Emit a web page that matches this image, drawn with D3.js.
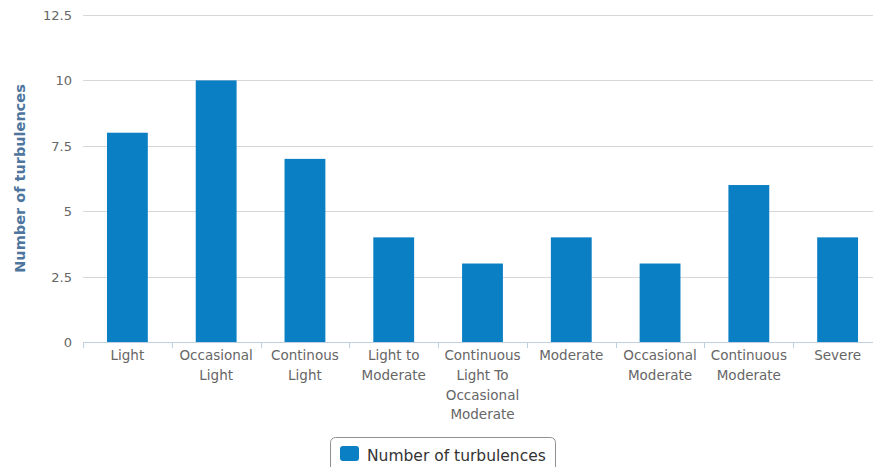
<!DOCTYPE html>
<html>
<head>
<meta charset="utf-8">
<script src="https://cdn.jsdelivr.net/npm/d3@7"></script>
<style>
  body { margin: 0; background: #fff; }
  svg { display: block; font-family: "DejaVu Sans", sans-serif; }
</style>
</head>
<body>
<svg id="chart" width="873" height="467"></svg>
<script>
// chart data
var categories = ["Light", "Occasional Light", "Continous Light", "Light to Moderate",
                  "Continuous Light To Occasional Moderate", "Moderate",
                  "Occasional Moderate", "Continuous Moderate", "Severe"];
var turbulences = [8, 10, 7, 4, 3, 4, 3, 6, 4];
var yTicks = [0, 2.5, 5, 7.5, 10, 12.5];
var seriesName = "Number of turbulences";
var yTitle = "Number of turbulences";

const svg = d3.select("#chart"),
      plotL = 83, plotR = 882, plotT = 15, plotB = 342;

const x = d3.scaleBand().domain(categories).range([plotL, plotR]).padding(0),
      y = d3.scaleLinear().domain([0, 12.5]).range([plotB, plotT]);

// gridlines
svg.append("g").selectAll("line")
  .data(yTicks.filter(d => d > 0))
  .enter().append("line")
    .attr("x1", plotL).attr("x2", plotR)
    .attr("y1", d => Math.round(y(d)) + 0.5).attr("y2", d => Math.round(y(d)) + 0.5)
    .attr("stroke", "#d8d8d8").attr("stroke-width", 1);

// y labels
svg.append("g").selectAll("text")
  .data(yTicks)
  .enter().append("text")
    .attr("x", 72)
    .attr("y", d => y(d) + 5)
    .attr("text-anchor", "end")
    .style("font-size", "13px")
    .style("fill", "#666")
    .text(d => d);

// y title
svg.append("text")
  .attr("transform", `translate(25,${(plotT + plotB) / 2}) rotate(-90)`)
  .attr("text-anchor", "middle")
  .style("font-size", "14.5px")
  .style("font-weight", "bold")
  .style("fill", "#4d759e")
  .text(yTitle);

// bars
const barW = x.bandwidth() * 0.46;
svg.append("g").selectAll("rect")
  .data(turbulences)
  .enter().append("rect")
    .attr("x", (d, i) => x(categories[i]) + (x.bandwidth() - barW) / 2)
    .attr("y", d => y(d))
    .attr("width", barW)
    .attr("height", d => plotB - y(d))
    .attr("fill", "#0a7fc4");

// x axis line + ticks between categories
svg.append("line")
  .attr("x1", plotL).attr("x2", plotR)
  .attr("y1", plotB + 0.5).attr("y2", plotB + 0.5)
  .attr("stroke", "#c0d0e0");
svg.append("g").selectAll("line")
  .data(categories.concat([null]))
  .enter().append("line")
    .attr("x1", (d, i) => Math.round(plotL + i * x.step()) + 0.5)
    .attr("x2", (d, i) => Math.round(plotL + i * x.step()) + 0.5)
    .attr("y1", plotB).attr("y2", plotB + 6)
    .attr("stroke", "#c0d0e0");

// x labels with wrapping
const labels = svg.append("g").selectAll("text")
  .data(categories)
  .enter().append("text")
    .attr("text-anchor", "middle")
    .style("font-size", "13.5px")
    .style("fill", "#666");

labels.each(function(d) {
  const t = d3.select(this), cx = x(d) + x.bandwidth() / 2;
  const words = d.split(" ");
  let line = [], lineNo = 0;
  let tspan = t.append("tspan").attr("x", cx).attr("y", 360);
  words.forEach(w => {
    line.push(w);
    tspan.text(line.join(" "));
    if (tspan.node().getComputedTextLength() > x.bandwidth() - 4 && line.length > 1) {
      line.pop();
      tspan.text(line.join(" "));
      line = [w];
      lineNo++;
      tspan = t.append("tspan").attr("x", cx).attr("y", 360 + lineNo * 19.8).text(w);
    }
  });
});

// legend
const lg = svg.append("g");
lg.append("rect")
  .attr("x", 330.5).attr("y", 437.5).attr("width", 225).attr("height", 40)
  .attr("rx", 5).attr("fill", "#fff").attr("stroke", "#909090");
lg.append("rect")
  .attr("x", 340).attr("y", 446).attr("width", 19).attr("height", 15)
  .attr("rx", 3).attr("fill", "#0a7fc4");
lg.append("text")
  .attr("x", 367).attr("y", 461)
  .style("font-size", "15.5px")
  .style("fill", "#333")
  .text(seriesName);
</script>
</body>
</html>
